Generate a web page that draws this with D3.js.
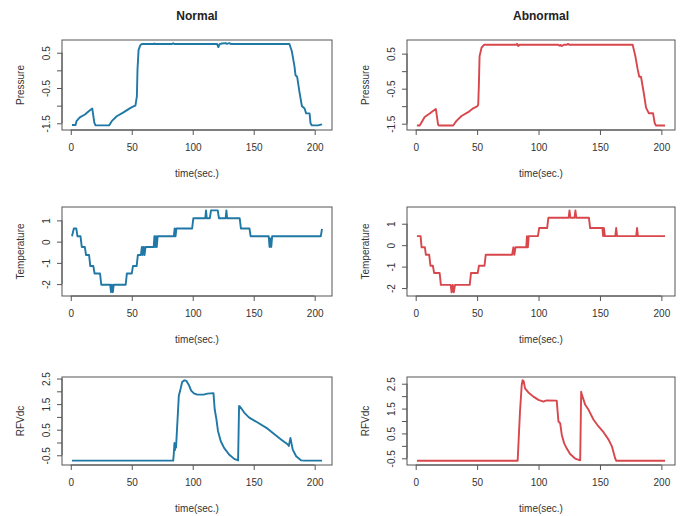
<html lang="en">
<head>
<meta charset="UTF-8">
<title>Normal vs Abnormal</title>
<script src="https://d3js.org/d3.v7.min.js"></script>
<style>
  body { margin: 0; background: #fff; }
  text { font-family: "Liberation Sans", Arial, sans-serif; fill: #333; }
</style>
</head>
<body>
<script>
// time (sec.) / value pairs
var pressureNormal = [[1,-1.55],[3.9,-1.55],[4.7,-1.44],[7.4,-1.33],[11.6,-1.25],[15.7,-1.13],[17.6,-1.08],[19.3,-1.48],[20.3,-1.56],[31.4,-1.56],[33.6,-1.44],[37.7,-1.30],[43.2,-1.19],[48.7,-1.07],[51.4,-1.02],[53,-1.0],[54.2,-0.74],[54.7,0.02],[55.6,0.58],[57,0.71],[58.3,0.745],[68,0.745],[68.5,0.76],[69,0.745],[83,0.745],[84,0.77],[85,0.745],[120,0.745],[121,0.66],[122,0.745],[124,0.76],[127,0.77],[128,0.75],[130,0.77],[131.5,0.745],[179.3,0.745],[181.2,0.55],[183.4,0.12],[184.3,-0.14],[185.6,-0.18],[187.6,-0.63],[189.5,-1.01],[191.7,-1.08],[193,-1.22],[195.8,-1.22],[196.6,-1.5],[197.7,-1.56],[202.7,-1.56],[206,-1.53]]
var pressureAbnormal = [[1,-1.55],[3.3,-1.55],[7.3,-1.31],[11.4,-1.21],[16,-1.09],[16.4,-1.08],[18.2,-1.52],[18.8,-1.55],[30.5,-1.55],[33.2,-1.42],[37.3,-1.28],[42.7,-1.17],[46.8,-1.06],[50.3,-1.0],[50.9,-0.95],[51.4,-0.42],[52,0.43],[53.6,0.67],[55.8,0.755],[82,0.755],[82.5,0.78],[83.5,0.72],[84.5,0.755],[116,0.755],[117,0.73],[118,0.75],[119,0.72],[120.5,0.755],[123,0.755],[124,0.78],[125,0.755],[176.6,0.755],[178.8,0.43],[180.7,0.05],[182,-0.16],[183.4,-0.16],[185.6,-0.61],[187.5,-1.04],[189.7,-1.2],[193.2,-1.2],[194.6,-1.49],[195.6,-1.55],[203,-1.55]]
var tempNormal = [[1,0.25],[2.5,0.62],[4.5,0.62],[5.5,0.25],[8,0.25],[9,-0.25],[11.5,-0.25],[12.5,-0.63],[15,-0.63],[16,-1.15],[18.5,-1.15],[19.5,-1.5],[24,-1.5],[25,-2.03],[32.3,-2.03],[33,-2.38],[33.7,-2.03],[34.5,-2.38],[35.2,-2.03],[45,-2.03],[46,-1.5],[50,-1.5],[51,-1.15],[54,-1.15],[55,-0.63],[57.5,-0.63],[58.3,-0.25],[59,-0.63],[59.8,-0.25],[60.5,-0.63],[61.3,-0.25],[68,-0.25],[68.6,0.25],[69.2,-0.25],[69.9,0.25],[70.5,-0.25],[71.2,0.25],[84.5,0.25],[85.2,0.62],[85.9,0.25],[86.6,0.62],[99.5,0.62],[100.5,1.1],[110.3,1.1],[110.9,1.47],[111.5,1.1],[114,1.1],[115,1.47],[120.5,1.47],[121.5,1.1],[127,1.1],[127.6,1.47],[128.2,1.1],[138.5,1.1],[139.5,0.62],[146.5,0.62],[147.5,0.25],[162.3,0.25],[163,-0.25],[163.7,0.15],[164.4,-0.25],[165.1,0.25],[205,0.25],[206,0.6]]
var tempAbnormal = [[1,0.42],[4,0.42],[4.8,-0.1],[7.5,-0.1],[8.3,-0.45],[11,-0.45],[12,-0.96],[14,-0.96],[15,-1.3],[19.5,-1.3],[20.5,-1.85],[28.5,-1.85],[29.2,-2.2],[30.2,-1.85],[31,-2.2],[32,-1.85],[44,-1.85],[45,-1.3],[50.5,-1.3],[51.5,-0.96],[56,-0.96],[57,-0.45],[78.5,-0.45],[79.5,-0.1],[80.3,-0.45],[81.2,-0.1],[90,-0.1],[90.6,0.42],[91.3,-0.1],[92,0.42],[99.5,0.42],[100.5,0.8],[107,0.8],[108,1.28],[124.5,1.28],[125.2,1.62],[125.9,1.28],[129.3,1.28],[130,1.62],[130.7,1.28],[141,1.28],[142,0.8],[152,0.8],[152.6,0.42],[153.2,0.8],[154,0.42],[162.5,0.42],[163.2,0.8],[163.9,0.42],[179.5,0.42],[180.2,0.8],[180.9,0.42],[203,0.42]]
var rfvNormal = [[1,-0.71],[84,-0.71],[84.5,-0.42],[85,-0.02],[85.4,-0.3],[85.8,-0.05],[86.3,-0.2],[88.6,1.83],[90,2.09],[91.3,2.36],[93.2,2.43],[94.6,2.42],[96.8,2.25],[98.7,2.03],[101,1.92],[103.7,1.87],[109,1.87],[112,1.91],[117,1.93],[118,1.3],[119.4,0.91],[120.7,0.45],[123,0.05],[125.7,-0.21],[129.8,-0.47],[134,-0.64],[137.2,-0.7],[138,1.43],[138.9,1.4],[142.2,1.17],[146.3,0.97],[153.2,0.78],[161.4,0.54],[167,0.32],[172.4,0.12],[178,-0.08],[178.8,-0.14],[180.1,0.18],[182,-0.28],[184.8,-0.54],[189,-0.7],[191.7,-0.71],[206,-0.71]]
var rfvAbnormal = [[1,-0.6],[83,-0.6],[84.9,1.38],[86.3,2.45],[87,2.64],[87.9,2.6],[89,2.31],[91.7,2.15],[95.8,1.98],[99.9,1.85],[104,1.78],[105.3,1.81],[106.7,1.83],[114.8,1.82],[116.2,0.98],[117.6,0.91],[118.9,0.45],[120.8,0.11],[123,-0.11],[125.7,-0.33],[129.8,-0.51],[133.9,-0.58],[134.7,2.18],[135.2,2.07],[138,1.65],[140.7,1.45],[144.8,1.05],[148.8,0.78],[152.9,0.55],[157,0.25],[159.7,-0.02],[162.4,-0.51],[163.3,-0.6],[203,-0.6]]

// ticks and labels
var xTicks = [0, 50, 100, 150, 200]
var pressureTicks = [-1.5, -1, -0.5, 0, 0.5]
var pressureLabels = ["-1.5", "", "-0.5", "", "0.5"]
var tempTicks = [-2, -1, 0, 1]
var tempLabels = ["-2", "-1", "0", "1"]
var rfvTicks = [-0.5, 0, 0.5, 1, 1.5, 2, 2.5]
var rfvLabels = ["-0.5", "", "0.5", "", "1.5", "", "2.5"]
var colTitles = ["Normal", "Abnormal"]

var width = 687, height = 516
var cols = [{x0: 62, x1: 332, color: "#1f78a5", xdom: [-7.2, 214.2]},
            {x0: 407, x1: 675, color: "#d8474c", xdom: [-7.08, 211.08]}]
var rows = [{y0: 40, y1: 130, name: "Pressure", ticks: pressureTicks, labels: pressureLabels, ydom: [[-1.69, 0.86], [-1.68, 0.89]], data: [pressureNormal, pressureAbnormal]},
            {y0: 207, y1: 296, name: "Temperature", ticks: tempTicks, labels: tempLabels, ydom: [[-2.56, 1.63], [-2.37, 1.78]], data: [tempNormal, tempAbnormal]},
            {y0: 377, y1: 465, name: "RFVdc", ticks: rfvTicks, labels: rfvLabels, ydom: [[-0.88, 2.56], [-0.77, 2.77]], data: [rfvNormal, rfvAbnormal]}]

var svg = d3.select("body").append("svg")
    .attr("width", width)
    .attr("height", height)

cols.forEach(function(c, ci) {
    svg.append("text")
        .attr("x", (c.x0 + c.x1) / 2)
        .attr("y", 20)
        .attr("text-anchor", "middle")
        .style("font-weight", "bold")
        .style("font-size", "12px")
        .style("fill", "#222")
        .text(colTitles[ci])

    rows.forEach(function(r) {
        var x = d3.scaleLinear().domain(c.xdom).range([c.x0, c.x1])
        var y = d3.scaleLinear().domain(r.ydom[ci]).range([r.y1, r.y0])
        var g = svg.append("g")

        // x axis
        var xa = g.append("g")
            .attr("transform", `translate(0,${r.y1})`)
            .call(d3.axisBottom(x).tickValues(xTicks).tickSize(5).tickPadding(8.5).tickFormat(d3.format("d")))
        xa.select(".domain").attr("d", `M${x(xTicks[0])},0H${x(xTicks[xTicks.length - 1])}`)

        // y axis, labels parallel to axis like R
        var ya = g.append("g")
            .attr("transform", `translate(${c.x0},0)`)
            .call(d3.axisLeft(y).tickValues(r.ticks).tickSize(5).tickFormat((d, i) => r.labels[i]))
        ya.select(".domain").attr("d", `M0,${y(r.ticks[0])}V${y(r.ticks[r.ticks.length - 1])}`)
        ya.selectAll(".tick text")
            .attr("x", null).attr("dy", null)
            .attr("text-anchor", "middle")
            .attr("transform", "translate(-12,0) rotate(-90)")

        g.selectAll(".tick line, .domain").attr("stroke", "#555")
        g.selectAll(".tick text").style("font-size", "10px").style("fill", "#333")
        g.selectAll("text").style("font-family", '"Liberation Sans", Arial, sans-serif')

        // line
        var lineF = d3.line().x(d => x(d[0])).y(d => y(d[1]))
        g.append("path")
            .datum(r.data[ci])
            .attr("d", lineF)
            .attr("fill", "none")
            .attr("stroke", c.color)
            .attr("stroke-width", 1.9)
            .attr("stroke-linejoin", "round")

        // box
        g.append("rect")
            .attr("x", c.x0).attr("y", r.y0)
            .attr("width", c.x1 - c.x0).attr("height", r.y1 - r.y0)
            .attr("fill", "none")
            .attr("stroke", "#555")
            .attr("stroke-width", 1)

        g.append("text")
            .attr("x", (c.x0 + c.x1) / 2)
            .attr("y", r.y1 + 47)
            .attr("text-anchor", "middle")
            .style("font-size", "10px")
            .text("time(sec.)")

        g.append("text")
            .attr("transform", `translate(${c.x0 - 38},${(r.y0 + r.y1) / 2}) rotate(-90)`)
            .attr("text-anchor", "middle")
            .style("font-size", "10px")
            .text(r.name)
    })
})
</script>
</body>
</html>
